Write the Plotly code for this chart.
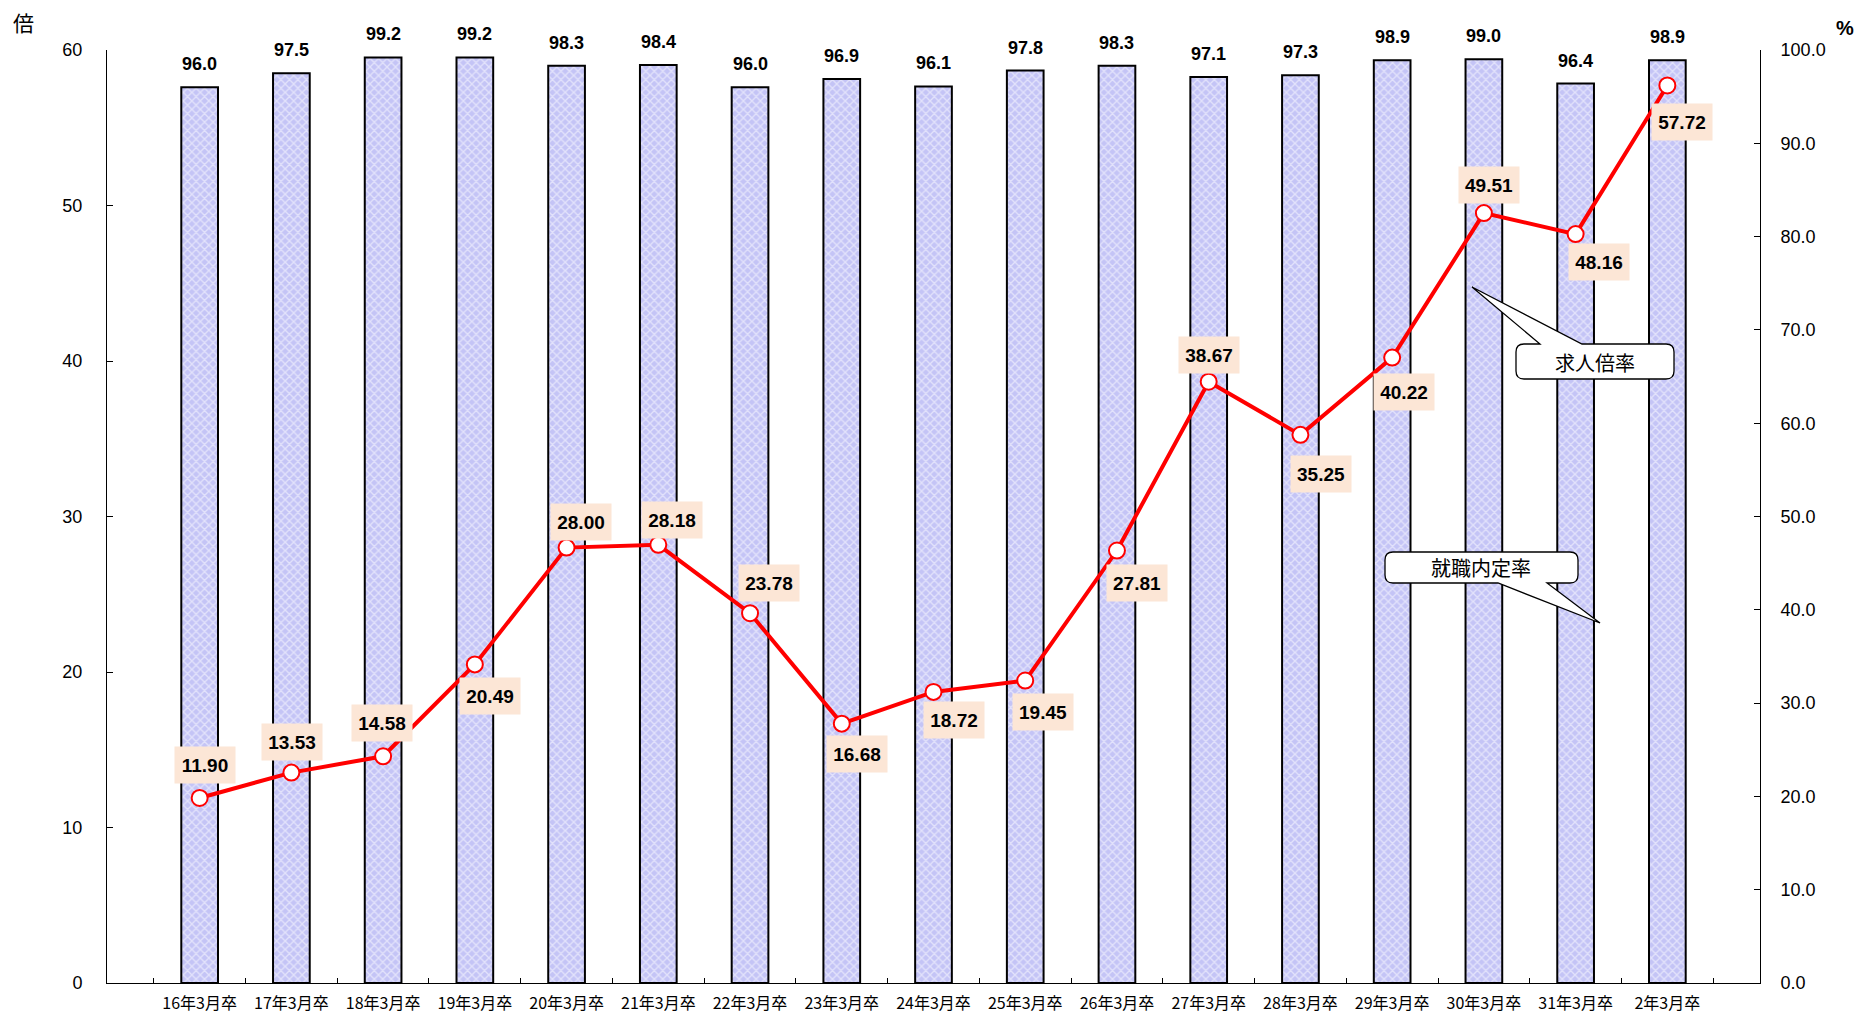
import plotly.graph_objects as go

categories = ["16年3月卒", "17年3月卒", "18年3月卒", "19年3月卒", "20年3月卒", "21年3月卒",
              "22年3月卒", "23年3月卒", "24年3月卒", "25年3月卒", "26年3月卒", "27年3月卒",
              "28年3月卒", "29年3月卒", "30年3月卒", "31年3月卒", "2年3月卒"]
naitei_rate = [96.0, 97.5, 99.2, 99.2, 98.3, 98.4, 96.0, 96.9, 96.1, 97.8, 98.3, 97.1,
               97.3, 98.9, 99.0, 96.4, 98.9]
kyujin_bairitsu = [11.90, 13.53, 14.58, 20.49, 28.00, 28.18, 23.78, 16.68, 18.72, 19.45,
                   27.81, 38.67, 35.25, 40.22, 49.51, 48.16, 57.72]
# label offsets (pixels) for the line labels
label_dx = [5, 1, -1, 15, 14, 14, 19, 15, 20, 18, 20, 0, 21, 12, 5, 23, 15]
label_dy = [33, 31, 33, -32, 26, 25, 30, -30, -28, -31, -32, 27, -39, -34, 28, -28, -37]

W, H = 1860, 1016
# plot area in page pixels: x 107..1760, y 50..983
L, R, T, B = 107, W - 1760, 50, H - 983
PW, PH = W - L - R, H - T - B


def px(x):
    return (x - L) / PW


def py(y):
    return (H - B - y) / PH


fig = go.Figure()
fig.add_trace(go.Bar(
    x=categories, y=naitei_rate, yaxis="y", width=0.4,
    marker=dict(color="#c8c8f7", line=dict(color="#000000", width=2),
                pattern=dict(shape="x", fgcolor="#ffffff", bgcolor="#c4c4f6",
                             size=6, solidity=0.4)),
    name="就職内定率", hoverinfo="x+y"))
fig.add_trace(go.Scatter(
    x=categories, y=kyujin_bairitsu, yaxis="y2", mode="lines+markers",
    line=dict(color="#ff0000", width=4),
    marker=dict(size=16, color="#ffffff", line=dict(color="#ff0000", width=2)),
    name="求人倍率"))

annotations = []
for c, v in zip(categories, naitei_rate):
    annotations.append(dict(x=c, y=v, xref="x", yref="y", text=f"{v:.1f}", showarrow=False,
                            yanchor="middle", yshift=23,
                            font=dict(family="Arial", size=18, color="#000000", weight="bold")))
for c, v, dx, dy in zip(categories, kyujin_bairitsu, label_dx, label_dy):
    annotations.append(dict(x=c, y=v, xref="x", yref="y2", text=f"{v:.2f}", showarrow=False,
                            xshift=dx, yshift=dy, width=58, height=34, bgcolor="#fce6d6",
                            font=dict(family="Arial", size=19, color="#000000", weight="bold")))


def paper_text(x, y, text, family, size, bold=False):
    f = dict(family=family, size=size, color="#000000")
    if bold:
        f["weight"] = "bold"
    return dict(x=px(x), y=py(y), xref="paper", yref="paper", text=text, showarrow=False,
                xanchor="center", yanchor="middle", font=f)


annotations.append(paper_text(23, 22, "倍", "Noto Sans CJK JP", 21))
annotations.append(paper_text(1845, 28, "%", "Arial", 20, bold=True))
annotations.append(paper_text(1595, 362, "求人倍率", "Noto Sans CJK JP", 20))
annotations.append(paper_text(1481, 568, "就職内定率", "Noto Sans CJK JP", 20))


def P(x, y):
    return f"{px(x):.6f},{py(y):.6f}"


def callout(x0, y0, x1, y1, r, tail_side, ta, tb, tip):
    parts = [f"M {P(x0 + r, y0)}"]
    if tail_side == "top":
        parts += [f"L {P(ta, y0)}", f"L {P(*tip)}", f"L {P(tb, y0)}"]
    parts += [f"L {P(x1 - r, y0)}", f"Q {P(x1, y0)} {P(x1, y0 + r)}",
              f"L {P(x1, y1 - r)}", f"Q {P(x1, y1)} {P(x1 - r, y1)}"]
    if tail_side == "bottom":
        parts += [f"L {P(tb, y1)}", f"L {P(*tip)}", f"L {P(ta, y1)}"]
    parts += [f"L {P(x0 + r, y1)}", f"Q {P(x0, y1)} {P(x0, y1 - r)}",
              f"L {P(x0, y0 + r)}", f"Q {P(x0, y0)} {P(x0 + r, y0)}", "Z"]
    return dict(type="path", xref="paper", yref="paper", path=" ".join(parts),
                fillcolor="#ffffff", line=dict(color="#000000", width=1.3), layer="above")


shapes = [
    callout(1516, 344, 1674, 379, 8, "top", 1540, 1582, (1472, 287)),
    callout(1385, 552, 1578, 583, 8, "bottom", 1498, 1547, (1600, 623)),
]

fig.update_layout(
    width=W, height=H, margin=dict(l=L, r=R, t=T, b=B, pad=0, autoexpand=False),
    paper_bgcolor="#ffffff", plot_bgcolor="#ffffff", showlegend=False,
    bargap=0.6,
    xaxis=dict(type="category", showline=True, linecolor="#000000", linewidth=1,
               ticks="inside", ticklen=5, tickcolor="#000000", tickson="boundaries",
               showgrid=False, ticklabelstandoff=6, automargin=False,
               tickfont=dict(family="Noto Sans CJK JP", size=16, color="#000000")),
    yaxis=dict(side="right", range=[0, 100], dtick=10, tickformat=".1f", showgrid=False,
               zeroline=False, showline=True, linecolor="#000000", linewidth=1,
               ticks="inside", ticklen=6, tickcolor="#000000", ticklabelstandoff=16,
               automargin=False,
               tickfont=dict(family="Arial", size=18, color="#000000")),
    yaxis2=dict(side="left", overlaying="y", range=[0, 60], dtick=10, showgrid=False,
                zeroline=False, showline=True, linecolor="#000000", linewidth=1,
                ticks="inside", ticklen=6, tickcolor="#000000", ticklabelstandoff=20,
                automargin=False,
                tickfont=dict(family="Arial", size=18, color="#000000")),
    annotations=annotations, shapes=shapes,
)

fig.write_html("out.html", config={"displayModeBar": False},
               post_script="document.body.style.margin='0';document.body.style.overflow='hidden';")
